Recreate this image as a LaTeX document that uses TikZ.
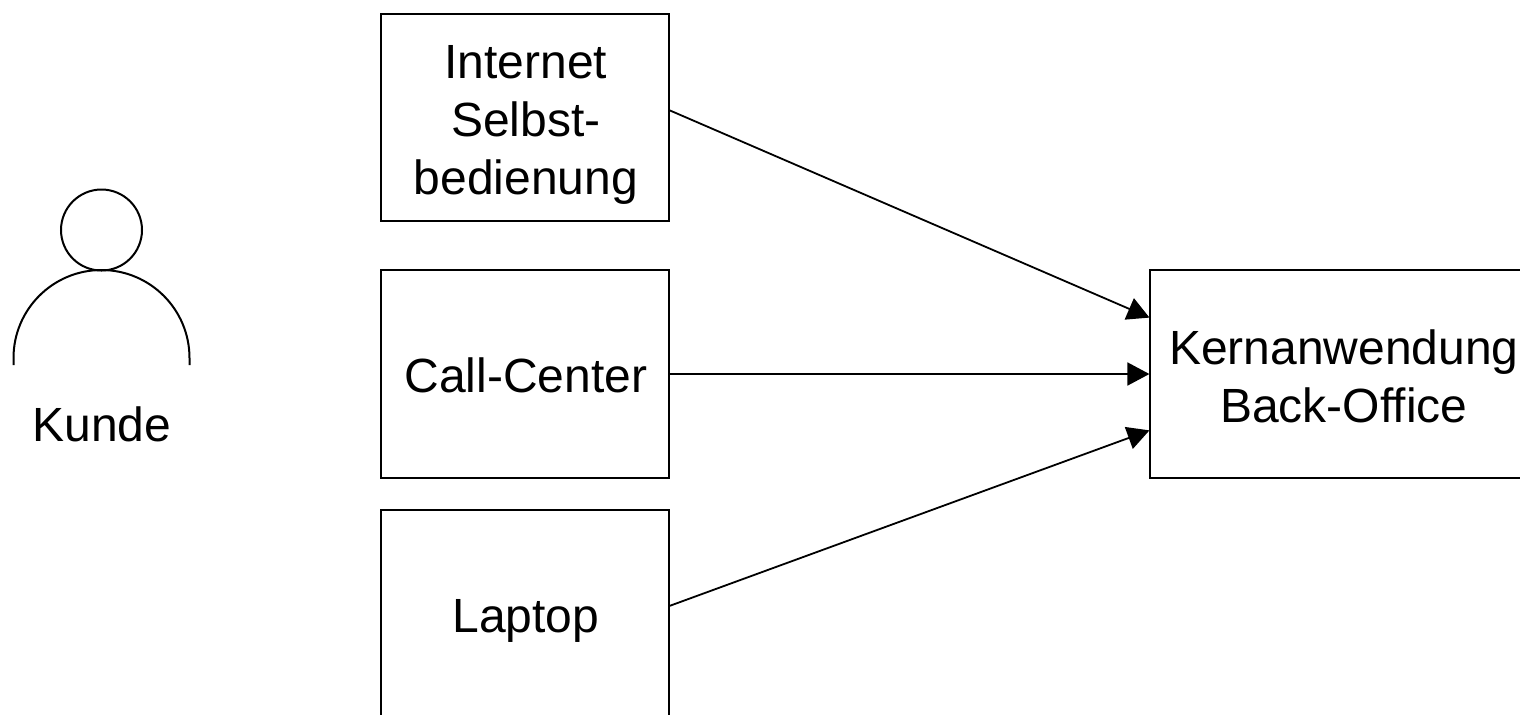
\documentclass[tikz,border=0pt]{standalone}
\usepackage{fontspec}
\setmainfont{Liberation Sans}
\usetikzlibrary{arrows.meta,calc}
\tikzset{
  base/.style={x=0.5pt,y=-0.5pt},
  boxnode/.style={draw=black,line width=1pt,fill=white,inner sep=0pt,outer sep=0pt,anchor=north west},
  lab/.style={inner sep=0pt,align=center,font=\fontsize{24}{29}\selectfont},
  conn/.style={draw=black,line width=0.9pt,-{Triangle[length=11pt,width=11.5pt]},shorten >=0.3pt},
  figure/.style={draw=black,line width=1pt}
}
\begin{document}
\begin{tikzpicture}[base]
\useasboundingbox (0,0) rectangle (1520,714);
\fill[white] (0,0) rectangle (1520,714);
\node[boxnode,minimum width=144pt,minimum height=103.5pt] (inet) at (381,14) {};
\node[lab,xshift=0.4pt,yshift=-3.5pt] (inettext) at (inet.center) {Internet\\Selbst-\\bedienung};
\node[boxnode,minimum width=144pt,minimum height=104pt] (call) at (381,270) {};
\node[lab,xshift=0.4pt,yshift=-0.5pt] (calltext) at (call.center) {Call-Center};
\node[boxnode,minimum width=144pt,minimum height=104pt] (lap) at (381,510) {};
\node[lab,xshift=0.4pt,yshift=-3.5pt] (laptext) at (lap.center) {Laptop};
\node[boxnode,minimum width=193pt,minimum height=104pt] (kern) at (1150,270) {};
\node[lab,xshift=0.4pt,yshift=-1pt] (kerntext) at (kern.center) {Kernanwendung\\Back-Office};
\coordinate (inetout) at ($(inet.north east)!.464!(inet.south east)$);
\coordinate (lapout) at ($(lap.north east)!.462!(lap.south east)$);
\coordinate (kernA) at ($(kern.north west)!.23!(kern.south west)$);
\coordinate (kernC) at ($(kern.north west)!.77!(kern.south west)$);
\draw[conn] (inetout) -- (kernA);
\draw[conn] (call.east) -- (kern.west);
\draw[conn] (lapout) -- (kernC);
\draw[figure] (101.5,230) circle (40.5);
\draw[figure] (13.5,365) -- (13.5,358) arc[start angle=180,end angle=360,radius=88] -- (189.5,365);
\node[lab] (kunde) at (102,424) {Kunde};
\end{tikzpicture}
\end{document}
